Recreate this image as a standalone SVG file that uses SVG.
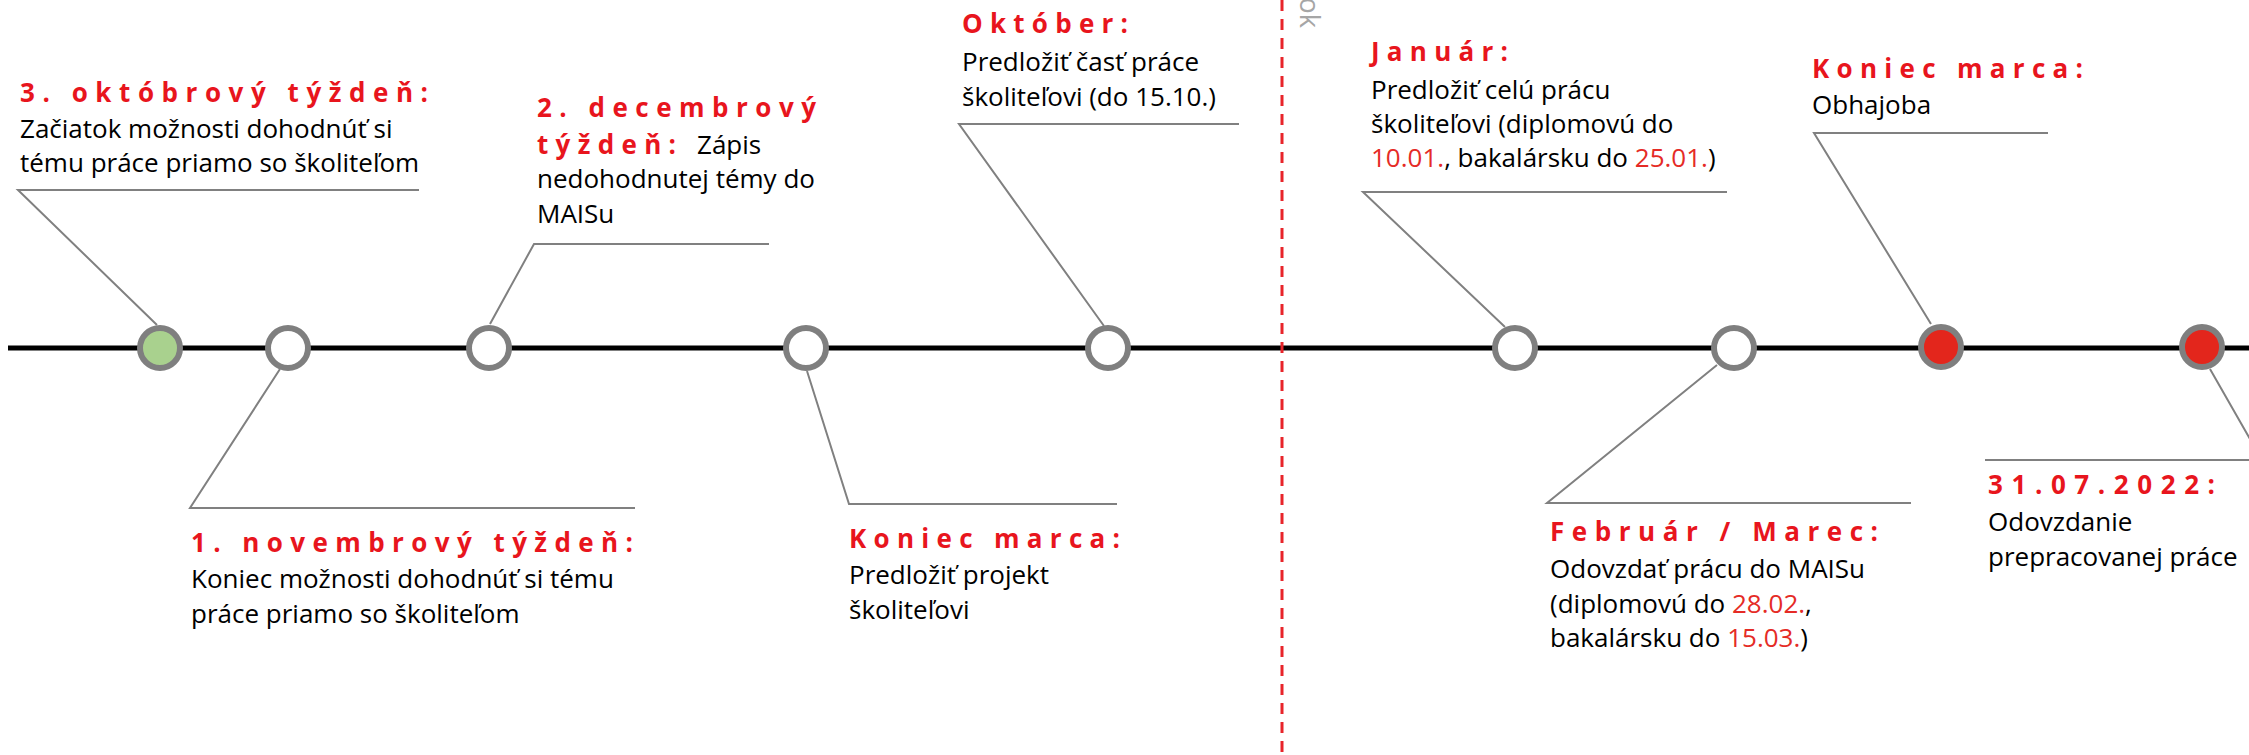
<svg xmlns="http://www.w3.org/2000/svg" width="2249" height="755" viewBox="0 0 2249 755">
<style>
  .bg{fill:#ffffff}
  .axis{stroke:#000000;stroke-width:5;fill:none}
  .divider{stroke:#e8242a;stroke-width:3;stroke-dasharray:11 8;fill:none}
  .callout{stroke:#808080;stroke-width:2;fill:none;stroke-linejoin:miter}
  .dot{stroke:#7f7f7f;stroke-width:6}
  .open{fill:#ffffff}
  .start{fill:#a9d18e}
  .end{fill:#e3261c}
  .title{font-family:"Open Sans","Liberation Sans",sans-serif;font-size:26px;font-weight:bold;fill:#e8151d}
  .body{font-family:"Open Sans","Liberation Sans",sans-serif;font-size:26px;fill:#000000}
  .date{fill:#e52b26}
  .rot{font-family:"Open Sans","Liberation Sans",sans-serif;font-size:27px;fill:#a6a6a6}
</style>
<rect class="bg" x="0" y="0" width="2249" height="755"/>
<g id="axis">
  <line class="axis" x1="8" y1="348" x2="2249" y2="348"/>
  <line class="divider" x1="1282" y1="0" x2="1282" y2="755"/>
  <text class="rot" transform="translate(1300,28) rotate(90)" text-anchor="end">ok</text>
</g>
<g id="connectors">
  <polyline class="callout" points="419,190 18,190 157,325"/>
  <polyline class="callout" points="635,508 190,508 280,369"/>
  <polyline class="callout" points="769,244 534,244 490,324"/>
  <polyline class="callout" points="1117,504 849,504 807,371"/>
  <polyline class="callout" points="1239,124 959,124 1104,326"/>
  <polyline class="callout" points="1727,192 1363,192 1505,327"/>
  <polyline class="callout" points="1911,503 1547,503 1717,365"/>
  <polyline class="callout" points="2048,133 1814,133 1931,324"/>
  <polyline class="callout" points="1985,460 2262,460 2210,369"/>
</g>
<g id="node1">
  <circle class="dot start" cx="160" cy="348" r="20"/>
  <text class="title" x="20" y="102" textLength="408" lengthAdjust="spacing">3. októbrový týždeň:</text>
  <text class="body" x="20" y="138">Začiatok možnosti dohodnúť si</text>
  <text class="body" x="20" y="172">tému práce priamo so školiteľom</text>
</g>
<g id="node2">
  <circle class="dot open" cx="288" cy="348" r="20"/>
  <text class="title" x="191" y="552" textLength="442" lengthAdjust="spacing">1. novembrový týždeň:</text>
  <text class="body" x="191" y="588">Koniec možnosti dohodnúť si tému</text>
  <text class="body" x="191" y="623">práce priamo so školiteľom</text>
</g>
<g id="node3">
  <circle class="dot open" cx="489" cy="348" r="20"/>
  <text class="title" x="537" y="117" textLength="279" lengthAdjust="spacing">2. decembrový</text>
  <text class="title" x="537" y="154" textLength="139" lengthAdjust="spacing">týždeň:</text>
  <text class="body" x="697" y="154">Zápis</text>
  <text class="body" x="537" y="188">nedohodnutej témy do</text>
  <text class="body" x="537" y="223">MAISu</text>
</g>
<g id="node4">
  <circle class="dot open" cx="806" cy="348" r="20"/>
  <text class="title" x="849" y="548" textLength="271" lengthAdjust="spacing">Koniec marca:</text>
  <text class="body" x="849" y="584">Predložiť projekt</text>
  <text class="body" x="849" y="619">školiteľovi</text>
</g>
<g id="node5">
  <circle class="dot open" cx="1108" cy="348" r="20"/>
  <text class="title" x="962" y="33" textLength="166" lengthAdjust="spacing">Október:</text>
  <text class="body" x="962" y="71">Predložiť časť práce</text>
  <text class="body" x="962" y="106">školiteľovi (do 15.10.)</text>
</g>
<g id="node6">
  <circle class="dot open" cx="1515" cy="348" r="20"/>
  <text class="title" x="1371" y="61" textLength="137" lengthAdjust="spacing">Január:</text>
  <text class="body" x="1371" y="99">Predložiť celú prácu</text>
  <text class="body" x="1371" y="133">školiteľovi (diplomovú do</text>
  <text class="body" x="1371" y="167"><tspan class="date">10.01.</tspan>, bakalársku do <tspan class="date">25.01.</tspan>)</text>
</g>
<g id="node7">
  <circle class="dot open" cx="1734" cy="348" r="20"/>
  <text class="title" x="1550" y="541" textLength="328" lengthAdjust="spacing">Február / Marec:</text>
  <text class="body" x="1550" y="578">Odovzdať prácu do MAISu</text>
  <text class="body" x="1550" y="613">(diplomovú do <tspan class="date">28.02.</tspan>,</text>
  <text class="body" x="1550" y="647">bakalársku do <tspan class="date">15.03.</tspan>)</text>
</g>
<g id="node8">
  <circle class="dot end" cx="1941" cy="347" r="20"/>
  <text class="title" x="1812" y="78" textLength="271" lengthAdjust="spacing">Koniec marca:</text>
  <text class="body" x="1812" y="114">Obhajoba</text>
</g>
<g id="node9">
  <circle class="dot end" cx="2202" cy="347" r="20"/>
  <text class="title" x="1988" y="494" textLength="227" lengthAdjust="spacing">31.07.2022:</text>
  <text class="body" x="1988" y="531">Odovzdanie</text>
  <text class="body" x="1988" y="566">prepracovanej práce</text>
</g>
</svg>
